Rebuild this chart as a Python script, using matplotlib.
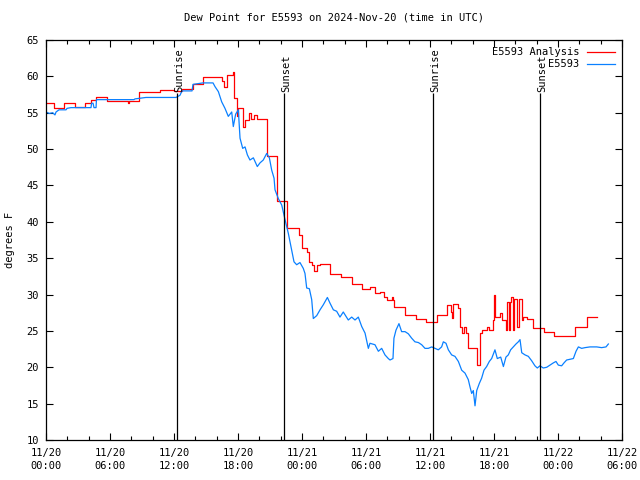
import numpy as np
import matplotlib
matplotlib.use("Agg")
import matplotlib.pyplot as plt
from matplotlib.lines import Line2D
from matplotlib.ticker import MultipleLocator

# hours since 2024-11-20 00:00 UTC
ana_hr = [0.0, 0.78, 1.72, 2.75, 3.68, 4.22, 4.69, 5.72, 7.66, 7.75, 8.69, 10.72, 12.03, 12.72,
          13.75, 14.72, 16.47, 16.69, 16.97, 17.53, 17.62, 17.88, 18.0, 18.47, 18.66, 19.03, 19.22,
          19.5, 19.78, 20.69, 21.61, 22.62, 23.72, 23.97, 24.44, 24.69, 24.91, 25.15, 25.38, 25.69,
          26.63, 27.66, 28.66, 29.6, 30.37, 30.84, 31.31, 31.69, 32.0, 32.41, 32.56, 32.62, 33.66,
          34.69, 35.63, 36.66, 37.59, 37.94, 38.06, 38.16, 38.6, 38.81, 39.0, 39.19, 39.38, 39.56,
          40.38, 40.69, 40.84, 41.34, 41.53, 41.91, 42.03, 42.09, 42.56, 42.75, 43.12, 43.25, 43.44,
          43.5, 43.56, 43.75, 43.88, 44.13, 44.19, 44.37, 44.65, 44.75, 45.06, 45.69, 46.69, 47.62,
          49.59, 50.72, 51.66]
ana_val = [56.4, 55.6, 56.3, 55.8, 56.3, 56.8, 57.1, 56.6, 56.3, 56.6, 57.8, 58.1, 58.0, 58.2,
           59.0, 59.9, 59.3, 58.6, 60.2, 60.6, 57.0, 54.5, 55.6, 53.1, 54.0, 54.9, 54.2,
           54.7, 54.1, 49.0, 42.9, 39.1, 38.2, 36.4, 35.9, 34.5, 34.1, 33.3, 34.1, 34.2,
           32.8, 32.4, 31.4, 30.8, 31.0, 30.2, 30.3, 29.7, 29.3, 29.7, 29.2, 28.3, 27.2,
           26.7, 26.2, 27.2, 28.6, 27.6, 26.8, 28.7, 28.2, 25.6, 24.7, 25.6, 24.7, 22.6,
           20.3, 24.7, 25.1, 25.6, 25.1, 26.5, 29.9, 26.9, 27.4, 26.5, 25.1, 29.0, 25.1,
           29.0, 29.7, 25.1, 29.4, 27.4, 25.6, 29.4, 26.5, 26.9, 26.7, 25.4, 24.9, 24.3,
           25.6, 26.9, 26.9]

obs_hr = [0.0, 0.31, 0.63, 0.84, 0.94, 1.22, 1.88, 1.97, 2.34, 4.22, 4.27, 4.41, 4.5, 4.69, 4.73,
          8.25, 8.34, 9.37, 12.19, 12.56, 12.75, 13.69, 13.78, 14.72, 15.66, 15.84, 16.16, 16.47,
          16.78, 17.09, 17.41, 17.56, 17.78, 18.03, 18.19, 18.44, 18.66, 18.88, 19.12, 19.44, 19.81,
          20.06, 20.37, 20.69, 20.94, 21.16, 21.38, 21.47, 21.78, 22.1, 22.41, 22.72, 23.03, 23.25,
          23.5, 23.81, 24.12, 24.28, 24.44, 24.69, 24.91, 25.06, 25.38, 25.69, 26.0, 26.38, 26.63,
          26.94, 27.25, 27.56, 27.87, 28.34, 28.66, 28.97, 29.28, 29.6, 29.91, 30.22, 30.37, 30.84,
          31.16, 31.47, 31.78, 32.09, 32.25, 32.53, 32.62, 32.81, 33.09, 33.34, 33.66, 33.97, 34.28,
          34.59, 34.91, 35.22, 35.53, 35.84, 36.16, 36.47, 36.78, 37.09, 37.25, 37.5, 37.72, 38.03,
          38.34, 38.66, 38.97, 39.28, 39.59, 39.75, 39.91, 40.06, 40.22, 40.38, 40.63, 40.84, 41.06,
          41.31, 41.56, 41.78, 42.09, 42.31, 42.63, 42.88, 43.12, 43.34, 43.56, 43.81, 44.06, 44.28,
          44.44, 44.6, 44.91, 45.22, 45.53, 45.84, 46.06, 46.31, 46.62, 46.94, 47.25, 47.56, 47.81,
          48.03, 48.34, 48.56, 48.81, 49.12, 49.44, 49.69, 49.91, 50.22, 50.53, 51.0, 51.63, 52.09,
          52.5, 52.72]
obs_val = [55.1, 54.9, 55.0, 54.7, 55.1, 55.4, 55.4, 55.6, 55.7, 55.7, 56.3, 56.3, 55.7, 55.7, 56.8,
           56.8, 56.9, 57.1, 57.1, 57.4, 58.0, 58.0, 58.9, 59.1, 59.1, 58.6, 57.9, 56.5,
           55.6, 54.5, 55.1, 53.1, 54.8, 55.4, 51.5, 50.1, 50.3, 49.2, 48.5, 48.8, 47.6,
           48.1, 48.5, 49.4, 48.8, 47.1, 46.0, 44.4, 43.2, 42.3, 40.3, 38.4, 36.1, 34.5,
           34.1, 34.4, 33.6, 32.9, 30.9, 30.8, 29.3, 26.7, 27.1, 27.9, 28.6, 29.6, 28.8,
           27.9, 27.7, 26.9, 27.6, 26.5, 26.9, 26.5, 26.9, 25.6, 24.7, 22.6, 23.3, 23.1,
           22.2, 22.6, 21.7, 21.2, 21.0, 21.2, 24.0, 25.1, 26.0, 24.9, 24.9, 24.6, 24.0,
           23.5, 23.4, 23.1, 22.6, 22.6, 22.8, 22.6, 22.4, 22.8, 23.5, 23.3, 22.4, 21.7,
           21.5, 20.8, 19.6, 19.2, 18.3, 17.3, 16.4, 16.8, 14.7, 16.8, 17.8, 18.5, 19.6,
           20.1, 20.8, 21.2, 22.4, 21.2, 21.4, 20.1, 21.4, 21.7, 22.4, 22.8, 23.2, 23.5,
           23.8, 22.0, 21.7, 21.5, 20.9, 20.2, 19.9, 20.2, 19.9, 20.0, 20.3, 20.6, 20.8,
           20.3, 20.2, 20.6, 21.0, 21.1, 21.2, 22.2, 22.8, 22.6, 22.7, 22.8, 22.8, 22.7,
           22.8, 23.2]

sun_hr = [12.28, 22.3, 36.27, 46.3]
sun_lbl = ["Sunrise", "Sunset", "Sunrise", "Sunset"]

tick_hr = [0, 6, 12, 18, 24, 30, 36, 42, 48, 54]
tick_lbl = ["11/20\n00:00", "11/20\n06:00", "11/20\n12:00", "11/20\n18:00", "11/21\n00:00",
            "11/21\n06:00", "11/21\n12:00", "11/21\n18:00", "11/22\n00:00", "11/22\n06:00"]

RED, BLUE = "#ff0000", "#0a80ff"
FONT = "DejaVu Sans Mono"
FS = 7.5
plt.rcParams["font.family"] = FONT
plt.rcParams["font.size"] = FS

fig = plt.figure(figsize=(6.4, 4.8), dpi=100)
ax = fig.add_axes([46 / 640, 40 / 480, 576 / 640, 400 / 480])

ax.plot(ana_hr, ana_val, color=RED, lw=0.9, drawstyle="steps-post")
ax.plot(obs_hr, obs_val, color=BLUE, lw=0.9)

ax.vlines(sun_hr, 10, 57.7, color="k", lw=0.9)
for h, s in zip(sun_hr, sun_lbl):
    ax.text(h + 0.2, 57.9, s, rotation=90, ha="center", va="bottom", fontsize=FS)

ax.set_xlim(0, 54)
ax.set_ylim(10, 65)
ax.set_xticks(tick_hr)
ax.set_xticklabels(tick_lbl, linespacing=1.35)
ax.xaxis.set_minor_locator(MultipleLocator(2))
ax.yaxis.set_major_locator(MultipleLocator(5))
ax.tick_params(which="both", direction="in", top=True, right=True, width=0.8)
ax.tick_params(which="major", length=5)
ax.tick_params(which="minor", length=3)
ax.tick_params(axis="x", pad=6)
ax.tick_params(axis="y", pad=5)
for sp in ax.spines.values():
    sp.set_linewidth(0.9)

ax.set_title("Dew Point for E5593 on 2024-Nov-20 (time in UTC)", fontsize=FS, pad=14)
fig.text(10 / 640, 0.5, "degrees F", rotation=90, ha="center", va="center", fontsize=FS)

handles = [Line2D([], [], color=RED, lw=0.9), Line2D([], [], color=BLUE, lw=0.9)]
ax.legend(handles, ["E5593 Analysis", "E5593"], loc="upper right", frameon=False,
          markerfirst=False, handlelength=2.7, handletextpad=0.7, labelspacing=0.2,
          borderaxespad=0.3, fontsize=FS)

fig.savefig("out.png", dpi=100)
